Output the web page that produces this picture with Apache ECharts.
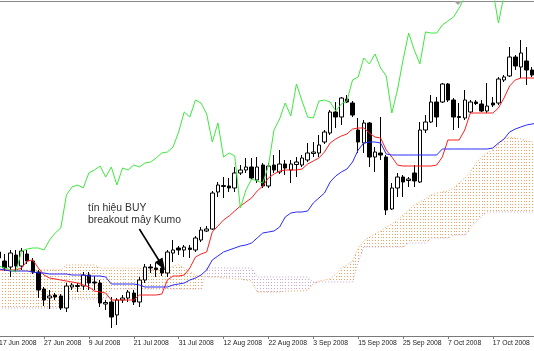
<!DOCTYPE html>
<html><head><meta charset="utf-8">
<script src="https://cdn.jsdelivr.net/npm/echarts@6/dist/echarts.min.js"></script>
<style>html,body{margin:0;padding:0;background:#fff;}#c{width:534px;height:351px;}</style>
</head><body><div id="c"></div>
<script>
// ---- categories: trading days (Mon-Fri) starting 17 Jun 2008 ----
const monthNames = ['Jan','Feb','Mar','Apr','May','Jun','Jul','Aug','Sep','Oct','Nov','Dec'];
const categories = [];
(function(){
  const d = new Date(Date.UTC(2008, 5, 17));
  while (categories.length < 97) {
    const wd = d.getUTCDay();
    if (wd !== 0 && wd !== 6) categories.push(d.getUTCDate() + ' ' + monthNames[d.getUTCMonth()] + ' ' + d.getUTCFullYear());
    d.setUTCDate(d.getUTCDate() + 1);
  }
})();
const tickEvery = 8; // one date label every 8 bars

// ---- candles [open, close, low, high] ----
const candles = [
[78,84,73,88],[75,68,65,82],[69,83,59,86],[81,70,64,86],[70,85,66,88],
[82,75,72,86],[75,64,62,78],[64,46,38,66],[47,36,30,49],[38,40,27,46],
[41,39,36,43],[40,28,26,42],[28,50,24,53],[49,51,46,53],[49.5,50.5,44,53],
[50,61,46,64],[61,53,46,64],[54,53,46,60],[53,33,29,56],[32,33.5,26,36],
[34,19,8,39],[21,36,11,38],[36,38,33,41],[38,44,34,46],[43,34,31,46],
[34,56,29,59],[56,69,53,72],[69,68,63,72],[68,66.5,59,73],[68,63,60,70],
[63,84,59,86],[83,86,74,96],[88,86,81,90],[86,89,79,91],[88,86.5,78,91],
[86,98,84,100],[96,106,94,109],[105,107,104,110],[107,143,106,145],[144,151,139,154],
[149.5,150.5,138,159],[150,148,144,158],[148,163,144,169],[163,166,161,171],[166,169,163,178],
[169,158,156,178],[156,169,153,179],[171,150,148,173],[150,170,148,173],[171,166,163,181],
[164,172,162,186],[172,168,161,176],[166,172,153,176],[171.5,174,159,179],[171,178,169,181],
[176,183,174,193],[182.5,184,179,194],[183,191,179,201],[194,204,192,206],[203,224,201,226],
[224,219,208,234],[219,238,211,239],[237,234,233,241],[233,221,219,235],[206,194,183,218],
[193,213,183,216],[213,179,169,214],[179,184,164,189],[183,181,176,219],[179,126,121,181],
[127,148,126,153],[148,159,139,163],[159,154,139,161],[155.5,157,149,159],[163,155,149,171],
[154,206,153,214],[206,214,203,221],[214,234,213,241],[234,219,209,239],[234,252,233,253],
[252,236,234,253],[236,219,206,238],[219.5,218.5,208,233],[218,236,216,246],[224,234,223,236],
[234,232.5,231,236],[232,225,224,236],[225,230,223,253],[233,231,229,239],[233,257,231,259],
[256,259,254,261],[260,279,259,289],[279,270,266,281],[269,283,258,296],[275,266,251,289],
[266,261,259,269]
];

// ---- Ichimoku lines ----
const tenkan = [
66,66,66,66,68,75,76,68,61,58,
57,56,55,54,53,51,49,45,44,43,
36,36,36,36,36,41,41,41,41,42,
56,60,60,61,68,79,82,84,104,110,
116,120,125,130,134,138,145,150,158,162,
165,166,166,166,167,172,175,178,184,193,
197,200,202,207,208,208,203,199,198,186,
179,171,170,170,170,170,170,170,171,179,
196,196,196,206,223,223,223,223,223,228,
238,250,256,258,258,258,258
];
const kijun = [
67,66,65,65,65,65,64,63,63,62,
62,62,62,61,61,61,60,60,60,59,
52,52,52,52,52,51,49,49,49,49,
49,51,52,53,56,58,61,66,76,80,
84,86,88,90,91,93,98,103,104,105,
109,119,123,124,124,125,133,138,143,154,
160,164,167,174,186,193,194,194,193,182,
181,181,181,181,181,181,181,181,181,187,
187,187,187,187,187,187,187,187,188,193,
197,204,207,209,211,212,213
];
const chikou = [
70,68,66,64,85,87,88,88,86,96,
103,108,141,149,151,148,163,166,170,159,
169,151,168,166,171,169,173,174,178,183,
184,189,204,224,219,236,233,222,194,213,
179,183,180,128,146,157,155,153,170,206,
217,233,220,252,235,219,218,235,236,234,
225,232,235,256,259,278,272,282,268,260,
223,246,276,303,286,272,304,303,303,311,
315,319,328,339,348,354,356,351,346,313,
341,361
];
const spanA = [
66,66,66,66,66,66,66,66,66,66,
66,66,71,71,71,71,71,71,68,68,
68,68,68,68,68,68,66,66,66,66,
67,70,71,68,64,61,60,59,59,59,
58,58,57,57,56,55,44,44,44,44,
44,45,45,45,45,46,52,55,56,57,
62,68,71,75,88,95,99,102,105,109,
112,116,121,126,131,134,137,141,143,144,
145,148,153,158,164,173,179,183,186,192,
197,199,198,197,195,194,193
];
const spanB = [
28,28,28,28,28,28,28,28,28,28,
28,28,37,37,37,37,37,37,37,37,
47,47,47,47,47,47,47,47,47,47,
47,47,47,47,47,47,47,68,68,68,
68,68,68,68,68,68,59,59,59,59,
59,59,59,59,59,59,54,54,54,54,
54,54,54,54,74,89,89,89,89,89,
89,89,89,93,93,93,93,98,98,98,
98,101,101,101,108,114,120,124,124,124,
124,124,124,124,124,124,124
];
const noteLines = ['tín hiệu BUY', 'breakout mây Kumo'];
const arrowFrom = [25, 107];
const arrowTo = [29, 71];

const orange = '#f4a05a', thistle = '#c9a6d4';
const chart = echarts.init(document.getElementById('c'), null, {renderer:'canvas', width:534, height:351});

function lineSeries(name, data, color, z, dash){
  return {type:'line', name, data, symbol:'none', silent:true, z,
    lineStyle:{color, width:1, type: dash || 'solid'}, emphasis:{disabled:true}};
}

const option = {
  animation:false,
  backgroundColor:'#ffffff',
  grid:{left:-0.9, right:-3.7, top:1, bottom:15, containLabel:false, outerBoundsMode:'none'},
  xAxis:[{
    type:'category', data:categories, boundaryGap:false,
    axisLine:{show:true, lineStyle:{color:'#7a7a7a', width:1}},
    axisTick:{show:true, interval:tickEvery-1, alignWithLabel:true, length:3, lineStyle:{color:'#7a7a7a'}},
    axisLabel:{show:true, interval:tickEvery-1, align:'left', margin:4, fontSize:6.8, hideOverlap:false,
      fontFamily:'Liberation Sans, Arial, sans-serif', color:'#1a1a1a'},
    splitLine:{show:false}
  },{
    type:'category', data:categories, boundaryGap:false, position:'top',
    axisLine:{show:true, lineStyle:{color:'#8a8a8a', width:1}},
    axisTick:{show:false}, axisLabel:{show:false}, splitLine:{show:false}
  }],
  yAxis:{type:'value', min:0, max:335, show:false, splitLine:{show:false}},
  series:[
    {
      type:'custom', name:'Kumo', z:1, silent:true, clip:true,
      data: spanA.map((a,i)=>[i, a, spanB[i]]),
      encode:{x:0, y:[1,2]},
      renderItem(params, api){
        const i = api.value(0), a = api.value(1), b = api.value(2);
        const bw = api.size([1,0])[0];
        const cols = [[a, b, 0]];
        if (i + 1 < spanA.length) cols.push([(a + spanA[i+1]) / 2, (b + spanB[i+1]) / 2, 0.5]);
        const children = [];
        cols.forEach(function(c){
          const pa = api.coord([i, c[0]]), pb = api.coord([i, c[1]]);
          const x = Math.round(pa[0] + c[2] * bw) + 0.5;
          const y1 = Math.round(Math.min(pa[1], pb[1])), y2 = Math.round(Math.max(pa[1], pb[1]));
          children.push({type:'line', shape:{x1:x, y1:y1, x2:x, y2:y2},
            style:{stroke: c[0] >= c[1] ? orange : thistle, lineWidth:1, lineDash:[1,2], lineDashOffset: y1 % 3}});
        });
        return {type:'group', children};
      }
    },
    lineSeries('Senkou A', spanA, orange, 2, [1,2]),
    lineSeries('Senkou B', spanB, thistle, 2, [1,2]),
    {
      type:'candlestick', name:'Price', data:candles, barWidth:4, z:3, silent:true,
      itemStyle:{color:'#ffffff', color0:'#000000', borderColor:'#000000', borderColor0:'#000000', borderWidth:1},
      emphasis:{disabled:true},
      markLine:{
        silent:true, symbol:['none','triangle'], symbolSize:[9,12],
        label:{show:false}, emphasis:{disabled:true},
        lineStyle:{color:'#000000', width:1.6, type:'solid'},
        data:[[{coord:arrowFrom},{coord:arrowTo}]]
      }
    },
    lineSeries('Tenkan', tenkan, '#ff2020', 4),
    lineSeries('Kijun', kijun, '#2a2aff', 4),
    lineSeries('Chikou', chikou, '#3ee83e', 4)
  ],
  graphic:[
    {type:'text', x:88, y:202, z:10, silent:true,
      style:{text:noteLines.join('\n'), fontSize:10.4, fontFamily:'Liberation Sans, Arial, sans-serif',
        fill:'#303030', lineHeight:12}},
    {type:'polygon', z:10, silent:true, shape:{points:[[454,1],[462,1],[458,5]]}, style:{fill:'#a0a0a0'}}
  ]
};
chart.setOption(option);
</script>
</body></html>
